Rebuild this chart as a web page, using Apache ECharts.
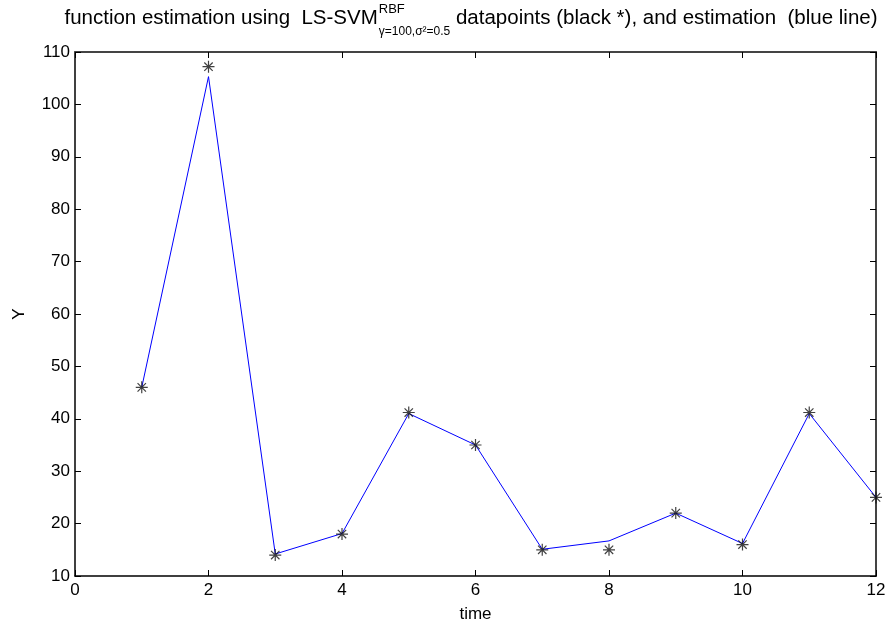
<!DOCTYPE html>
<html>
<head>
<meta charset="utf-8">
<script src="https://cdn.jsdelivr.net/npm/echarts@6/dist/echarts.min.js"></script>
<style>html,body{margin:0;padding:0;background:#fff;}#c{width:889px;height:628px;}</style>
</head>
<body>
<div id="c"></div>
<script>
var timeValues = [1, 2, 3, 4, 5, 6, 7, 8, 9, 10, 11, 12];
var dataPoints = [46, 107.2, 14, 18, 41.2, 35, 15, 15, 22, 16, 41.2, 25];
var estimation = [46, 105.3, 14.2, 18.1, 41, 35, 15.1, 16.7, 22, 16.2, 41, 25];
var xTicks = [0, 2, 4, 6, 8, 10, 12];
var yTicks = [10, 20, 30, 40, 50, 60, 70, 80, 90, 100, 110];
var titleMain = 'function estimation using  LS-SVM';
var titleSup = 'RBF';
var titleSub = 'γ=100,σ²=0.5';
var titleEnd = ' datapoints (black *), and estimation  (blue line)';

var star = 'path://M-1,-10L1,-10L1,10L-1,10Z M-10,-1L10,-1L10,1L-10,1Z M-7.7,-6.3L-6.3,-7.7L7.7,6.3L6.3,7.7Z M7.7,-6.3L-6.3,7.7L-7.7,6.3L6.3,-7.7Z';

var fam = '"Liberation Sans", Arial, sans-serif';
var mainSize = 20.5, supSize = 13, subSize = 12;
var cv = document.createElement('canvas').getContext('2d');
function tw(t, s){ cv.font = s + 'px ' + fam; return cv.measureText(t).width; }
var w1 = tw(titleMain, mainSize), wsup = tw(titleSup, supSize), wsub = tw(titleSub, subSize), w3 = tw(titleEnd, mainSize);
var wmid = Math.max(wsup, wsub) + 1;
var total = w1 + wmid + w3;
var tx = 471 - total / 2;

var chart = echarts.init(document.getElementById('c'));
function pairs(ys){ return timeValues.map(function(t,i){ return [t, ys[i]]; }); }
function axisCommon(col, w){ return {
  axisLine: {show: true, onZero: false, lineStyle: {color: col, width: w}},
  axisTick: {show: true, inside: true, length: 6, lineStyle: {color: '#000'}},
  splitLine: {show: false}
};}
function txt(t, x, y, s){ return {type: 'text', x: x, y: y, silent: true,
  style: {text: t, fontSize: s, fontFamily: fam, fill: '#000', align: 'left', verticalAlign: 'top'}}; }
chart.setOption({
  animation: false,
  backgroundColor: '#fff',
  graphic: [
    txt(titleMain, tx, 8, mainSize),
    txt(titleSup, tx + w1 + 1, 3, supSize),
    txt(titleSub, tx + w1 + 1, 26, subSize),
    txt(titleEnd, tx + w1 + wmid, 8, mainSize)
  ],
  grid: {left: 75, right: 13, top: 52, bottom: 48},
  xAxis: [
    Object.assign({
      type: 'value', min: 0, max: 12, interval: 2, position: 'bottom',
      name: 'time', nameLocation: 'middle', nameGap: 30,
      nameTextStyle: {fontFamily: fam, fontSize: 17, color: '#000'},
      axisLabel: {fontFamily: fam, fontSize: 17, color: '#000', margin: 6,
        formatter: function(v){ return xTicks.indexOf(v) >= 0 ? String(v) : ''; }}
    }, axisCommon('#000', 1.5)),
    Object.assign({
      type: 'value', min: 0, max: 12, interval: 2, position: 'top',
      axisLabel: {show: false}
    }, axisCommon('#444', 2))
  ],
  yAxis: [
    Object.assign({
      type: 'value', min: 10, max: 110, interval: 10, position: 'left',
      name: 'Y', nameLocation: 'middle', nameGap: 47, nameRotate: 90,
      nameTextStyle: {fontFamily: fam, fontSize: 17, color: '#000'},
      axisLabel: {fontFamily: fam, fontSize: 17, color: '#000', margin: 5,
        formatter: function(v){ return yTicks.indexOf(v) >= 0 ? String(v) : ''; }}
    }, axisCommon('#000', 1.5)),
    Object.assign({
      type: 'value', min: 10, max: 110, interval: 10, position: 'right',
      axisLabel: {show: false}
    }, axisCommon('#444', 2))
  ],
  series: [
    {
      type: 'line', data: pairs(estimation), xAxisIndex: 0, yAxisIndex: 0,
      showSymbol: false, symbol: 'none',
      lineStyle: {color: '#0000ff', width: 1}, z: 2
    },
    {
      type: 'scatter', data: pairs(dataPoints), xAxisIndex: 0, yAxisIndex: 0,
      symbol: star, symbolSize: 12,
      itemStyle: {color: '#111'}, z: 3
    }
  ]
});
</script>
</body>
</html>
